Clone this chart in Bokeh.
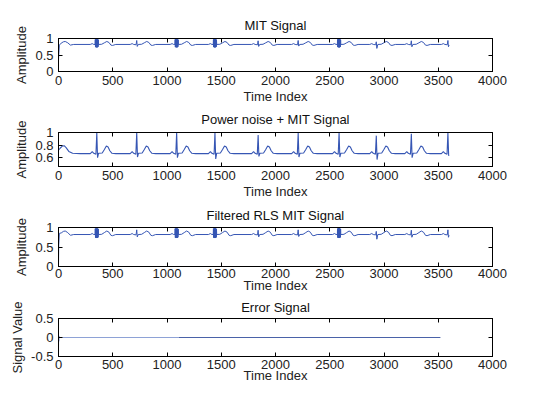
from bokeh.plotting import figure
from bokeh.layouts import column
from bokeh.models import LinearAxis, Range1d, FixedTicker
from bokeh.embed import file_html
from bokeh.resources import INLINE

# ---------------- data ----------------
x_ticks = [0, 500, 1000, 1500, 2000, 2500, 3000, 3500, 4000]

# R-peak sample positions of the beats
beat_pos = [353, 721, 1089, 1442, 1840, 2209, 2586, 2929, 3252, 3589]
# beats whose QRS appears as a dense block in the MIT / filtered traces
block_beats = [353, 1089, 1442, 2586]
signal_end = 3600

# MIT signal: start segment, beat template (offset from R, value), per-beat R / S values
mit_start_x = [0, 2, 8, 25, 45, 62, 85, 110, 140]
mit_start_y = [0.33, 0.50, 0.80, 0.86, 0.90, 0.91, 0.87, 0.80, 0.82]
mit_tpl_dx = [-60, -42, -28, -6, 0, 5, 14, 45, 70, 92, 112, 130, 145, 175]
mit_tpl_y = [0.82, 0.845, 0.82, 0.81, 0.95, 0.75, 0.82, 0.825, 0.87, 0.91, 0.88, 0.80, 0.79, 0.82]
mit_r = [0.97, 0.94, 0.97, 0.98, 0.93, 0.94, 0.97, 0.90, 0.93, 0.94]
mit_s = [0.74, 0.76, 0.74, 0.73, 0.76, 0.77, 0.73, 0.70, 0.75, 0.75]
mit_blk_dx = [-16, -14, -12, -10, -8, -6, -4, -2, 0, 2, 4, 6, 8, 10, 12, 14, 16]
mit_blk_y = [0.82, 0.97, 0.74, 0.97, 0.74, 0.98, 0.73, 0.97, 0.74, 0.98, 0.73, 0.97, 0.74, 0.97, 0.75, 0.96, 0.82]
mit_end_y = 0.80

# Power noise + MIT signal
noisy_start_x = [0, 15, 35, 52, 70, 95, 130, 200]
noisy_start_y = [0.72, 0.75, 0.785, 0.79, 0.76, 0.70, 0.67, 0.665]
noisy_tpl_dx = [-60, -42, -28, -8, 0, 7, 16, 50, 70, 88, 104, 120, 140, 175]
noisy_tpl_y = [0.665, 0.695, 0.67, 0.655, 1.0, 0.60, 0.67, 0.675, 0.73, 0.785, 0.77, 0.71, 0.67, 0.665]
noisy_r = [1.0, 1.0, 1.0, 1.0, 0.96, 0.99, 1.0, 0.95, 0.98, 1.0]
noisy_s = [0.60, 0.61, 0.60, 0.58, 0.62, 0.61, 0.61, 0.57, 0.60, 0.63]
noisy_end_y = 0.64

# Filtered RLS MIT signal (start differs, rest follows MIT trace)
filt_start_x = [0, 2, 8, 25, 45, 62, 85, 110, 140]
filt_start_y = [0.0, 0.55, 0.85, 0.86, 0.90, 0.91, 0.87, 0.80, 0.82]

# Error signal
err_a_x = [0, 1, 3, 6, 12, 40, 1110]
err_a_y = [-0.5, 0.05, -0.10, 0.03, 0.0, 0.0, 0.0]
err_b_x = [1110, 3520]
err_b_y = [0.0, 0.0]

titles = ["MIT Signal", "Power noise + MIT Signal", "Filtered RLS MIT Signal", "Error Signal"]
y_labels = ["Amplitude", "Amplitude", "Amplitude", "Signal Value"]
y_ranges = [(0, 1), (0.46, 1.0), (0, 1), (-0.5, 0.5)]
y_ticks = [[0, 0.5, 1], [0.6, 0.8, 1], [0, 0.5, 1], [-0.5, 0, 0.5]]
y_tick_text = [["0", "0.5", "1"], ["0.6", "0.8", "1"], ["0", "0.5", "1"], ["-0.5", "0", "0.5"]]


def build(start_x, start_y, tpl_dx, tpl_y, r_vals, s_vals, blocks, blk_dx, blk_y, end_y):
    xs, ys = list(start_x), list(start_y)
    for i, r in enumerate(beat_pos):
        vy = list(tpl_y)
        vy[4] = r_vals[i]
        vy[5] = s_vals[i]
        pts = list(zip(tpl_dx, vy))
        if r in blocks:
            pre = [(d, v) for d, v in pts if d < blk_dx[0]]
            post = [(d, v) for d, v in pts if d > blk_dx[-1]]
            pts = pre + list(zip(blk_dx, blk_y)) + post
        for d, v in pts:
            if xs[-1] < r + d <= signal_end:
                xs.append(r + d)
                ys.append(v)
    xs.append(signal_end)
    ys.append(end_y)
    return xs, ys


mit_x, mit_y = build(mit_start_x, mit_start_y, mit_tpl_dx, mit_tpl_y, mit_r, mit_s,
                     block_beats, mit_blk_dx, mit_blk_y, mit_end_y)
noisy_x, noisy_y = build(noisy_start_x, noisy_start_y, noisy_tpl_dx, noisy_tpl_y, noisy_r, noisy_s,
                         [], mit_blk_dx, mit_blk_y, noisy_end_y)
filt_x, filt_y = build(filt_start_x, filt_start_y, mit_tpl_dx, mit_tpl_y, mit_r, mit_s,
                       block_beats, mit_blk_dx, mit_blk_y, mit_end_y)

# ---------------- layout / style ----------------
FONT = "Liberation Sans"
FS = "13px"
LINE = "#3656b4"
W = 534
row_h = [107, 95, 93, 95]
row_top = [38, 25, 25, 23]
row_bottom = [36, 36, 29, 34]
title_standoff = [3, 5, 3, 4]
title_gap = [4, 3, 3, 2]
lbl_standoff = [4, 4, 2, 3]
ax_standoff = [1, 1, -3, -4]

figs = []
for k in range(4):
    p = figure(width=W, height=row_h[k], output_backend="svg", toolbar_location=None,
               x_range=Range1d(0, 4000), y_range=Range1d(*y_ranges[k]),
               min_border_left=58, min_border_right=42,
               min_border_top=row_top[k], min_border_bottom=row_bottom[k])
    p.title.text = titles[k]
    p.title.align = "center"
    p.title.text_font = FONT
    p.title.text_font_size = FS
    p.title.text_font_style = "normal"
    p.title.text_color = "#111111"
    p.title.standoff = title_standoff[k]
    p.xgrid.visible = False
    p.ygrid.visible = False
    p.outline_line_color = "black"
    p.outline_line_alpha = 1
    p.background_fill_color = "white"
    p.border_fill_color = "white"

    xa = p.xaxis[0]
    xa.ticker = FixedTicker(ticks=x_ticks)
    xa.axis_label = "Time Index"
    ya = p.yaxis[0]
    ya.ticker = FixedTicker(ticks=y_ticks[k])
    ya.major_label_overrides = {t: s for t, s in zip(y_ticks[k], y_tick_text[k])}
    ya.axis_label = y_labels[k]
    for ax in (xa, ya):
        ax.major_tick_in = 4
        ax.major_tick_out = 0
        ax.minor_tick_line_color = None
        ax.axis_line_color = "black"
        ax.major_tick_line_color = "black"
        ax.major_label_text_font = FONT
        ax.major_label_text_font_size = FS
        ax.major_label_text_color = "#222222"
        ax.axis_label_text_font = FONT
        ax.axis_label_text_font_size = FS
        ax.axis_label_text_font_style = "normal"
        ax.axis_label_text_color = "#222222"
    xa.major_label_standoff = lbl_standoff[k]
    xa.axis_label_standoff = ax_standoff[k]
    ya.major_label_standoff = 5
    ya.axis_label_standoff = 3

    top = LinearAxis(ticker=FixedTicker(ticks=x_ticks))
    right = LinearAxis(ticker=FixedTicker(ticks=y_ticks[k]))
    for ax in (top, right):
        ax.major_tick_in = 4
        ax.major_tick_out = 0
        ax.minor_tick_line_color = None
        ax.major_label_text_font_size = "0px"
        ax.major_label_text_color = None
        ax.major_label_standoff = 0
        ax.axis_line_color = "black"
    p.add_layout(top, "above")
    p.add_layout(right, "right")
    # invisible spacer between the tick axis and the title
    spacer = LinearAxis(ticker=FixedTicker(ticks=[0]))
    spacer.major_tick_in = 0
    spacer.major_tick_out = title_gap[k]
    spacer.major_tick_line_color = None
    spacer.minor_tick_line_color = None
    spacer.axis_line_color = None
    spacer.major_label_text_font_size = "0px"
    spacer.major_label_text_color = None
    spacer.major_label_standoff = 0
    p.add_layout(spacer, "above")
    figs.append(p)

figs[0].line(mit_x, mit_y, line_color=LINE, line_width=1)
figs[1].line(noisy_x, noisy_y, line_color=LINE, line_width=1.1)
figs[2].line(filt_x, filt_y, line_color=LINE, line_width=1)
figs[3].line(err_a_x, err_a_y, line_color="#8ea2d6", line_width=1)
figs[3].line(err_b_x, err_b_y, line_color="#4a62a8", line_width=1)

layout = column(*figs, spacing=0)
open("out.html", "w").write(file_html(layout, INLINE))
